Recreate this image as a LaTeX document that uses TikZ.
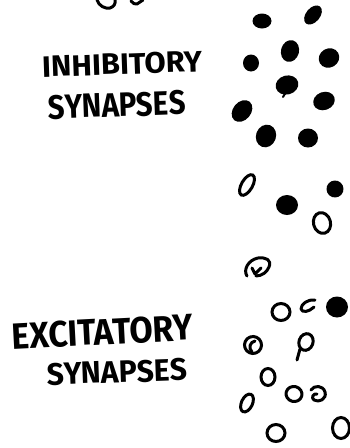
\documentclass[tikz,border=0pt]{standalone}
\usepackage{graphicx}
\usepackage{fontspec}
\setmainfont{Fira Sans}
\begin{document}
\begin{tikzpicture}[x=1pt,y=-1pt,
  inh/.style={fill=black},
  exc/.style={draw=black,line width=3pt},
  pen/.style={draw=black,line width=3pt,line cap=round,line join=round},
  lbl/.style={inner sep=0pt,anchor=center}]
\useasboundingbox (0,0) rectangle (349,448);
% fragment at top
\draw[pen] (97,0) .. controls (99,6) and (105,9) .. (110,8) .. controls (114,7) and (116,3) .. (115,0);
\draw[pen] (131,1) .. controls (133,3) and (135,5) .. (137,4) .. controls (139,3) and (141,1) .. (143,0);
% labels
\node[lbl,rotate=2] (inhA) at (122,64) {\resizebox{160pt}{21pt}{\bfseries INHIBITORY}};
\node[lbl,rotate=2] (inhB) at (117,105) {\resizebox{137pt}{24pt}{\bfseries SYNAPSES}};
\node[lbl,rotate=3] (excA) at (102,332) {\resizebox{181pt}{26pt}{\bfseries EXCITATORY}};
\node[lbl,rotate=2] (excB) at (117,372) {\resizebox{140pt}{22pt}{\bfseries SYNAPSES}};
% inhibitory (filled)
\fill[inh] (262,21) ellipse (9.5pt and 7.5pt);
\fill[inh,rotate around={-40:(313,15)}] (313,15) ellipse (7pt and 11pt);
\fill[inh,rotate around={-15:(290,51)}] (290,51) ellipse (9pt and 11pt);
\fill[inh] (251,63) ellipse (8pt and 8.5pt);
\fill[inh,rotate around={30:(329,58)}] (329,58) ellipse (10.5pt and 9.5pt);
\fill[inh,rotate around={15:(287,85)}] (287,85) ellipse (11.5pt and 9.5pt);
\draw[pen,line width=2pt] (286,92) -- (283,97);
\fill[inh,rotate around={20:(324,101)}] (324,101) ellipse (11pt and 9pt);
\fill[inh,rotate around={-40:(242,111)}] (242,111) ellipse (9pt and 12pt);
\fill[inh,rotate around={-20:(266,136)}] (266,136) ellipse (10pt and 11.5pt);
\fill[inh] (308,138) ellipse (10pt and 9.5pt);
% mixed middle
\draw[exc,rotate around={-30:(247,185)}] (247,185) ellipse (5.5pt and 11.5pt);
\fill[inh] (287,205) ellipse (11pt and 10pt);
\fill[inh,rotate around={-20:(335,189)}] (335,189) ellipse (8.5pt and 8.5pt);
\draw[exc,rotate around={15:(322,223)}] (322,223) ellipse (8.5pt and 10.5pt);
\draw[pen] (247,276) .. controls (243,270) and (248,260) .. (258,258) .. controls (266,257) and (272,260) .. (269,267) .. controls (267,272) and (262,276) .. (256,276);
\draw[pen] (252,268) -- (255,274) -- (261,268);
% excitatory (open)
\draw[exc] (281,312) ellipse (9pt and 8.5pt);
\draw[pen] (315,300) .. controls (308,299) and (301,304) .. (301,309) .. controls (302,313) and (309,312) .. (314,307);
\fill[inh] (337,307) ellipse (11pt and 10.5pt);
\draw[exc,rotate around={20:(253,345)}] (253,345) ellipse (8.5pt and 8.5pt);
\draw[pen] (252,352) .. controls (248,348) and (250,342) .. (255,341);
\draw[exc,rotate around={-20:(306,342)}] (306,342) ellipse (7pt and 8.5pt);
\draw[pen] (300,349) -- (297,360);
\draw[exc] (268,377) ellipse (7pt and 8.5pt);
\draw[exc,rotate around={-25:(247,403)}] (247,403) ellipse (5.5pt and 9.5pt);
\draw[exc,rotate around={-15:(294,394)}] (294,394) ellipse (8pt and 7.5pt);
\draw[pen] (311,390) .. controls (314,385) and (323,385) .. (325,392) .. controls (327,399) and (319,403) .. (314,400) .. controls (311,398) and (313,393) .. (317,394);
\draw[exc] (276,433) ellipse (9pt and 8.5pt);
\draw[exc] (341,428) ellipse (8.5pt and 10.5pt);
\end{tikzpicture}
\end{document}
